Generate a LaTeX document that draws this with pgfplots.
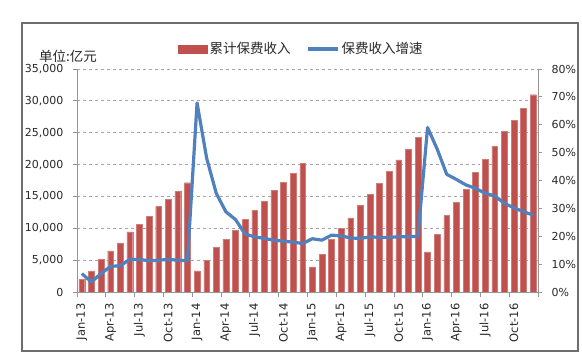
\documentclass[border=0pt]{standalone}
\usepackage{fontspec}
\setmainfont{DejaVu Sans}
\newfontfamily\cjk{Noto Sans CJK SC}
\usepackage{pgfplots}
\usepackage{pgfplotstable}
\pgfplotsset{compat=1.18}
\definecolor{barred}{RGB}{192,80,77}
\definecolor{lineblue}{RGB}{79,129,189}
\definecolor{axgray}{RGB}{150,150,150}
\definecolor{gridgray}{RGB}{165,165,165}
\definecolor{framegray}{RGB}{110,110,110}
\definecolor{txt}{RGB}{40,40,40}

\pgfplotstableread{
x prem growth
0 2000 6.6
1 3300 3.6
2 5100 6.6
3 6450 9.2
4 7710 9.4
5 9440 11.7
6 10650 11.7
7 11900 11.2
8 13440 11.4
9 14590 11.7
10 15800 11.4
11 17150 11.2
12 3300 67.8
13 5000 48.0
14 6990 35.4
15 8290 28.8
16 9710 26.0
17 11390 20.8
18 12810 19.8
19 14230 19.2
20 15900 18.6
21 17260 18.2
22 18630 17.9
23 20140 17.4
24 3935 19.1
25 5930 18.6
26 8290 20.4
27 9980 20.1
28 11650 19.4
29 13640 19.2
30 15330 19.8
31 17060 19.6
32 18950 19.6
33 20730 19.8
34 22410 19.8
35 24240 20.0
36 6300 59.0
37 9080 51.3
38 12020 42.2
39 14070 40.4
40 16110 38.4
41 18730 37.2
42 20840 35.4
43 22880 34.5
44 25180 31.8
45 26970 30.2
46 28800 28.8
47 30960 27.6
}\datatable

\begin{document}
\begin{tikzpicture}
\useasboundingbox (-77bp,-63bp) rectangle (505bp,292bp);
\draw[framegray, line width=1.3bp] (-55bp,-59bp) rectangle (501bp,269bp);
\node[anchor=west, text=txt, inner sep=0pt] at (-38bp,236bp) {\cjk\fontsize{13.5bp}{16bp}\selectfont 单位:亿元};
\begin{axis}[
  scale only axis, width=461bp, height=223bp,
  xmin=-0.5, xmax=47.5, ymin=0, ymax=35000,
  axis y line*=left, axis x line*=bottom,
  axis line style={axgray, line width=0.8bp},
  ytick={0,5000,...,35000},
  minor ytick={0,5000,...,35000},
  ymajorgrids, grid style={dashed, gridgray, line width=0.8bp},
  tick align=outside, major tick length=0pt, minor tick length=4.5bp,
  tick style={axgray, line width=0.8bp},
  /pgf/number format/assume math mode=true,
  /pgf/number format/1000 sep={,},
  scaled y ticks=false,
  yticklabel style={font=\fontsize{11bp}{13bp}\selectfont, text=txt, xshift=-10bp},
  xtick={0,3,...,45},
  minor xtick={-0.5,2.5,...,47.5},
  xticklabels={Jan-13,Apr-13,Jul-13,Oct-13,Jan-14,Apr-14,Jul-14,Oct-14,Jan-15,Apr-15,Jul-15,Oct-15,Jan-16,Apr-16,Jul-16,Oct-16},
  xticklabel style={font=\fontsize{11.5bp}{13bp}\selectfont, text=txt, rotate=90, anchor=east, xshift=-8bp},
]
\addplot[ybar, bar width=5.8bp, fill=barred, draw=barred!75!white, line width=0.4bp] table[x=x, y=prem] {\datatable};
\end{axis}
\begin{axis}[
  scale only axis, width=461bp, height=223bp,
  xmin=-0.5, xmax=47.5, ymin=0, ymax=80,
  axis y line*=right, axis x line=none,
  axis line style={axgray, line width=0.8bp},
  ytick={0,10,...,80},
  tick align=outside, major tick length=4bp,
  tick style={axgray, line width=0.8bp},
  yticklabel={\pgfmathprintnumber{\tick}\%},
  /pgf/number format/assume math mode=true,
  yticklabel style={font=\fontsize{11bp}{13bp}\selectfont, text=txt, xshift=6bp},
  legend columns=2,
  legend style={draw=none, fill=none, at={(0.219,1.09)}, anchor=west, inner sep=0pt,
    font=\cjk\fontsize{13.5bp}{16bp}\selectfont, text=txt,
    /tikz/every even column/.append style={column sep=14bp}},
  legend cell align=left,
]
\addlegendimage{legend image code/.code={\fill[barred] (0bp,-4bp) rectangle (29bp,4bp);}}
\addlegendentry{累计保费收入}
\addplot[lineblue, line width=3.2bp, line join=round,
  legend image code/.code={\draw[lineblue, line width=3.2bp] (0bp,0bp) -- (30bp,0bp);}]
  table[x=x, y=growth] {\datatable};
\addlegendentry{保费收入增速}
\end{axis}
\end{tikzpicture}
\end{document}
